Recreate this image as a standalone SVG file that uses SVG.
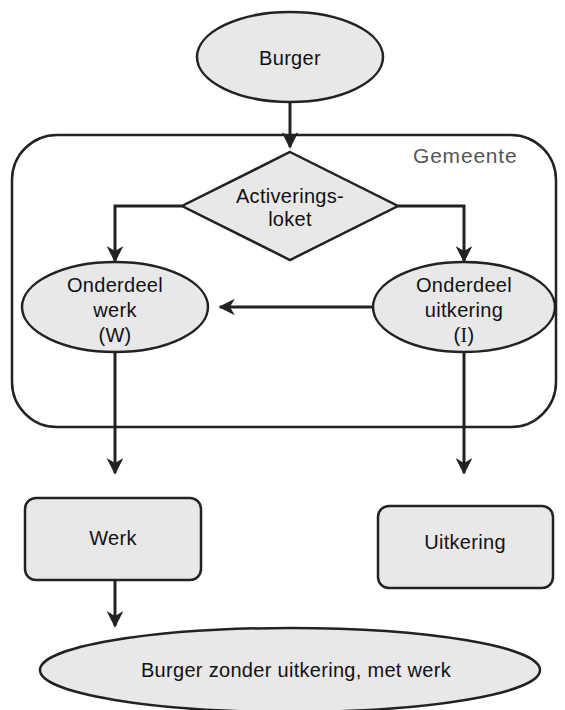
<svg xmlns="http://www.w3.org/2000/svg" width="565" height="710" viewBox="0 0 565 710">
<style>
.shape{fill:#e8e8e8;stroke:#222;stroke-width:2.5}
.frame{fill:none;stroke:#222;stroke-width:2.5}
.conn{fill:none;stroke:#222;stroke-width:3}
.t{font-family:"Liberation Sans",Arial,sans-serif;font-size:20px;letter-spacing:0.3px;fill:#111;text-anchor:middle}
.g{font-family:"Liberation Sans",Arial,sans-serif;font-size:21px;letter-spacing:0.8px;fill:#555;text-anchor:start}
</style>
<defs>
<marker id="ah" viewBox="0 0 10 10" refX="9" refY="5" markerWidth="5.5" markerHeight="5.5" orient="auto" markerUnits="strokeWidth">
<path d="M0,0 L10,5 L0,10 L3,5 z" fill="#222"/>
</marker>
</defs>
<g id="gemeente">
<rect class="frame" x="12" y="135" width="544" height="292" rx="45" ry="45"/>
<text class="g" x="413" y="163">Gemeente</text>
</g>
<g id="connectors">
<line class="conn" x1="290" y1="102" x2="290" y2="147" marker-end="url(#ah)"/>
<polyline class="conn" points="182,206 115,206 115,261" marker-end="url(#ah)"/>
<polyline class="conn" points="398,206 464,206 464,261" marker-end="url(#ah)"/>
<line class="conn" x1="373" y1="307" x2="220" y2="307" marker-end="url(#ah)"/>
<line class="conn" x1="115" y1="352" x2="115" y2="473" marker-end="url(#ah)"/>
<line class="conn" x1="464" y1="352" x2="464" y2="473" marker-end="url(#ah)"/>
<line class="conn" x1="115" y1="580" x2="115" y2="626" marker-end="url(#ah)"/>
</g>
<g id="burger">
<ellipse class="shape" cx="290" cy="57" rx="93" ry="45"/>
<text class="t" x="290" y="65">Burger</text>
</g>
<g id="activeringsloket">
<polygon class="shape" points="290,152 398,206 290,260 182,206"/>
<text class="t" x="290" y="203">Activerings-</text>
<text class="t" x="290" y="226">loket</text>
</g>
<g id="onderdeel-werk">
<ellipse class="shape" cx="115" cy="307" rx="93" ry="45"/>
<text class="t" x="115" y="292">Onderdeel</text>
<text class="t" x="115" y="317">werk</text>
<text class="t" x="115" y="342">(W)</text>
</g>
<g id="onderdeel-uitkering">
<ellipse class="shape" cx="464" cy="307" rx="91" ry="45"/>
<text class="t" x="464" y="292">Onderdeel</text>
<text class="t" x="464" y="317">uitkering</text>
<text class="t" x="464" y="342">(<tspan font-family="Liberation Serif, serif">I</tspan>)</text>
</g>
<g id="werk">
<rect class="shape" x="25" y="498" width="176" height="82" rx="11" ry="11"/>
<text class="t" x="113" y="545">Werk</text>
</g>
<g id="uitkering">
<rect class="shape" x="378" y="506" width="175" height="82" rx="11" ry="11"/>
<text class="t" x="465" y="549">Uitkering</text>
</g>
<g id="burger-met-werk">
<ellipse class="shape" cx="290" cy="670" rx="250" ry="42"/>
<text class="t" x="296" y="677">Burger zonder uitkering, met werk</text>
</g>
</svg>
